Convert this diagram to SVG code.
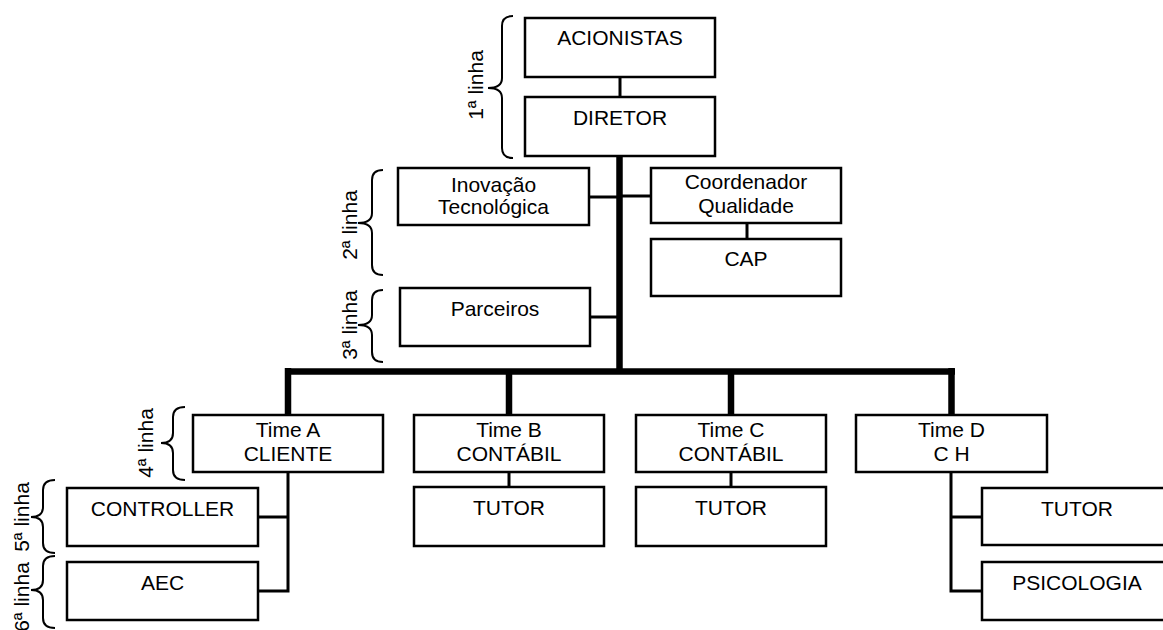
<svg xmlns="http://www.w3.org/2000/svg" width="1163" height="630" viewBox="0 0 1163 630">
  <style>
    .box { fill: #ffffff; stroke: #000000; stroke-width: 2.5; }
    .lbl { font-family: "Liberation Sans", Arial, sans-serif; font-size: 21px; fill: #000000; text-anchor: middle; }
    .thick { stroke: #000000; stroke-width: 6.5; fill: none; }
    .thin { stroke: #000000; stroke-width: 3; fill: none; }
    .brace { stroke: #000000; stroke-width: 2; fill: none; }
  </style>
  <rect width="1163" height="630" fill="#ffffff"/>

  <!-- connectors -->
  <g id="connectors">
    <!-- main trunk and bar -->
    <line class="thick" x1="619.5" y1="156" x2="619.5" y2="372"/>
    <line class="thick" x1="285" y1="371.5" x2="955" y2="371.5"/>
    <line class="thick" x1="288" y1="368" x2="288" y2="415"/>
    <line class="thick" x1="509" y1="371" x2="509" y2="415"/>
    <line class="thick" x1="731" y1="371" x2="731" y2="415"/>
    <line class="thick" x1="951.5" y1="368" x2="951.5" y2="415"/>
    <!-- thin links -->
    <line class="thin" x1="620" y1="77" x2="620" y2="97"/>
    <line class="thin" x1="589" y1="197" x2="617" y2="197"/>
    <line class="thin" x1="622" y1="196" x2="651" y2="196"/>
    <line class="thin" x1="747" y1="223" x2="747" y2="239"/>
    <line class="thin" x1="590" y1="317" x2="617" y2="317"/>
    <line class="thin" x1="509" y1="472" x2="509" y2="487"/>
    <line class="thin" x1="731" y1="472" x2="731" y2="487"/>
    <polyline class="thin" points="288,472 288,591 258,591"/>
    <line class="thin" x1="258" y1="517" x2="288" y2="517"/>
    <polyline class="thin" points="951,472 951,591 982,591"/>
    <line class="thin" x1="951" y1="517" x2="982" y2="517"/>
  </g>

  <!-- level braces and labels -->
  <g id="levels">
    <path class="brace" d="M513,16 Q502,16 502,26 L502,78 Q502,88 488,88 Q502,88 502,98 L502,148 Q502,158 513,158"/>
    <text class="lbl" transform="translate(483,85) rotate(-90)">1ª linha</text>
    <path class="brace" d="M383,170 Q372,170 372,180 L372,213 Q372,223 358,223 Q372,223 372,233 L372,265 Q372,275 383,275"/>
    <text class="lbl" transform="translate(357,225) rotate(-90)">2ª linha</text>
    <path class="brace" d="M383,290 Q372,290 372,300 L372,315 Q372,325 358,325 Q372,325 372,335 L372,352 Q372,362 383,362"/>
    <text class="lbl" transform="translate(357,325) rotate(-90)">3ª linha</text>
    <path class="brace" d="M185,407 Q173,407 173,417 L173,433 Q173,443 161,443 Q173,443 173,453 L173,470 Q173,480 185,480"/>
    <text class="lbl" transform="translate(153,443) rotate(-90)">4ª linha</text>
    <path class="brace" d="M55,480 Q43,480 43,490 L43,507 Q43,517 31,517 Q43,517 43,527 L43,543 Q43,553 55,553"/>
    <text class="lbl" transform="translate(29,517) rotate(-90)">5ª linha</text>
    <path class="brace" d="M55,556 Q43,556 43,566 L43,580 Q43,590 31,590 Q43,590 43,600 L43,618 Q43,628 55,628"/>
    <text class="lbl" transform="translate(29,597) rotate(-90)">6ª linha</text>
  </g>

  <!-- nodes -->
  <g id="acionistas">
    <rect class="box" x="525" y="18" width="190" height="59"/>
    <text class="lbl" x="620" y="45">ACIONISTAS</text>
  </g>
  <g id="diretor">
    <rect class="box" x="525" y="97" width="190" height="59"/>
    <text class="lbl" x="620" y="125">DIRETOR</text>
  </g>
  <g id="inovacao">
    <rect class="box" x="398" y="168" width="191" height="57"/>
    <text class="lbl" x="493.5" y="192">Inovação</text>
    <text class="lbl" x="493.5" y="214">Tecnológica</text>
  </g>
  <g id="coordenador">
    <rect class="box" x="651" y="168" width="190" height="55"/>
    <text class="lbl" x="746" y="189">Coordenador</text>
    <text class="lbl" x="746" y="213">Qualidade</text>
  </g>
  <g id="cap">
    <rect class="box" x="651" y="239" width="190" height="57"/>
    <text class="lbl" x="746" y="266">CAP</text>
  </g>
  <g id="parceiros">
    <rect class="box" x="400" y="288" width="190" height="58"/>
    <text class="lbl" x="495" y="316">Parceiros</text>
  </g>
  <g id="time-a">
    <rect class="box" x="193" y="415" width="190" height="57"/>
    <text class="lbl" x="288" y="437">Time A</text>
    <text class="lbl" x="288" y="461">CLIENTE</text>
  </g>
  <g id="time-b">
    <rect class="box" x="414" y="415" width="190" height="57"/>
    <text class="lbl" x="509" y="437">Time B</text>
    <text class="lbl" x="509" y="461">CONTÁBIL</text>
  </g>
  <g id="time-c">
    <rect class="box" x="636" y="415" width="190" height="57"/>
    <text class="lbl" x="731" y="437">Time C</text>
    <text class="lbl" x="731" y="461">CONTÁBIL</text>
  </g>
  <g id="time-d">
    <rect class="box" x="856" y="415" width="191" height="57"/>
    <text class="lbl" x="951.5" y="437">Time D</text>
    <text class="lbl" x="951.5" y="461">C H</text>
  </g>
  <g id="controller">
    <rect class="box" x="67" y="488" width="191" height="58"/>
    <text class="lbl" x="162.5" y="516">CONTROLLER</text>
  </g>
  <g id="aec">
    <rect class="box" x="67" y="562" width="191" height="58"/>
    <text class="lbl" x="162.5" y="590">AEC</text>
  </g>
  <g id="tutor-b">
    <rect class="box" x="414" y="487" width="190" height="59"/>
    <text class="lbl" x="509" y="515">TUTOR</text>
  </g>
  <g id="tutor-c">
    <rect class="box" x="636" y="487" width="190" height="59"/>
    <text class="lbl" x="731" y="515">TUTOR</text>
  </g>
  <g id="tutor-d">
    <rect class="box" x="982" y="488" width="190" height="57"/>
    <text class="lbl" x="1077" y="516">TUTOR</text>
  </g>
  <g id="psicologia">
    <rect class="box" x="982" y="562" width="190" height="58"/>
    <text class="lbl" x="1077" y="590">PSICOLOGIA</text>
  </g>
</svg>
